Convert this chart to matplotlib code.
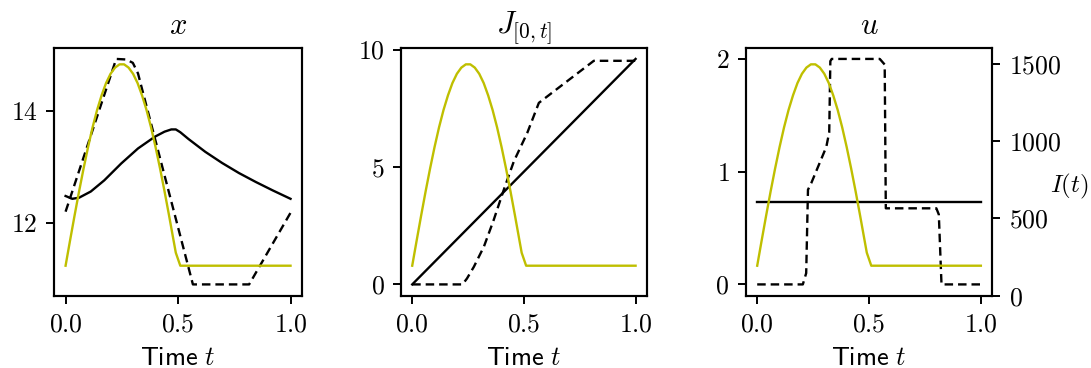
import matplotlib.pyplot as plt

# style: serif CM text, notebook-ish line widths, larger fonts
plt.rcParams.update({
    'font.family': 'cmr10',
    'mathtext.fontset': 'cm',
    'axes.formatter.use_mathtext': True,
    'axes.unicode_minus': False,
    'axes.linewidth': 1.5,
    'lines.linewidth': 1.7,
    'xtick.major.size': 6, 'ytick.major.size': 6,
    'xtick.major.width': 1.4, 'ytick.major.width': 1.4,
    'xtick.major.pad': 6, 'ytick.major.pad': 6,
    'xtick.labelsize': 18.5, 'ytick.labelsize': 18.5,
    'axes.labelsize': 19, 'axes.titlesize': 22,
})

# I(t), shared by all three panels (right axis)
t_I = [0, 0.02, 0.04, 0.06, 0.08, 0.10, 0.12, 0.14, 0.16, 0.18, 0.20, 0.22, 0.24,
       0.26, 0.28, 0.30, 0.32, 0.34, 0.36, 0.38, 0.40, 0.42, 0.44, 0.46, 0.48,
       0.49, 0.51, 1.0]
I_vals = [194, 358, 519, 675, 823, 962, 1089, 1201, 1296, 1376, 1436, 1476, 1497,
          1497, 1476, 1436, 1376, 1296, 1201, 1089, 962, 823, 675, 519, 358,
          278, 194, 194]

# state x
t_x_solid = [0, 0.03, 0.06, 0.112, 0.172, 0.247, 0.322, 0.397, 0.44, 0.47, 0.49,
             0.51, 0.546, 0.621, 0.696, 0.771, 0.846, 0.921, 1.0]
x_solid = [12.48, 12.43, 12.45, 12.56, 12.76, 13.06, 13.33, 13.54, 13.63, 13.67,
           13.67, 13.62, 13.50, 13.27, 13.07, 12.89, 12.73, 12.58, 12.43]
t_x_dash = [0, 0.225, 0.27, 0.299, 0.322, 0.566, 0.816, 1.0]
x_dash = [12.20, 14.93, 14.92, 14.86, 14.67, 10.90, 10.90, 12.18]

# cost J_[0,t]
t_J_solid = [0, 1.0]
J_solid = [0, 9.6]
t_J_dash = [0, 0.225, 0.245, 0.276, 0.321, 0.365, 0.41, 0.455, 0.515, 0.567,
            0.813, 1.0]
J_dash = [0, 0, 0.25, 0.75, 1.61, 2.75, 4.03, 5.24, 6.45, 7.73, 9.52, 9.52]

# control u
t_u_solid = [0, 1.0]
u_solid = [0.734, 0.734]
t_u_dash = [0, 0.204, 0.219, 0.227, 0.242, 0.309, 0.322, 0.327, 0.333, 0.548,
            0.570, 0.575, 0.801, 0.812, 0.824, 1.0]
u_dash = [0, 0, 0.1, 0.84, 0.90, 1.22, 1.35, 1.98, 2.0, 2.0,
          1.95, 0.675, 0.675, 0.62, 0, 0]

dash = (3.6, 2.1)

fig = plt.figure(figsize=(10.91, 3.68), dpi=100)
ax1 = fig.add_axes([0.0498, 0.1965, 0.2268, 0.674])
ax2 = fig.add_axes([0.3676, 0.1965, 0.2252, 0.674])
ax3 = fig.add_axes([0.6838, 0.1965, 0.2255, 0.674])

ax1.plot(t_x_solid, x_solid, color='k')
ax1.plot(t_x_dash, x_dash, color='k', linestyle='--', dashes=dash)
ax1.set_title('$x$', pad=10)
ax1.set_yticks([12, 14])

ax2.plot(t_J_solid, J_solid, color='k')
ax2.plot(t_J_dash, J_dash, color='k', linestyle='--', dashes=dash)
ax2.set_title('$J_{[0,t]}$', pad=10)
ax2.set_yticks([0, 5, 10])

ax3.plot(t_u_solid, u_solid, color='k')
ax3.plot(t_u_dash, u_dash, color='k', linestyle='--', dashes=dash)
ax3.set_title('$u$', pad=10)
ax3.set_yticks([0, 1, 2])

for i, ax in enumerate([ax1, ax2, ax3]):
    ax.set_xticks([0.0, 0.5, 1.0])
    ax.set_xlabel(r'$\mathsf{Time}\ t$', labelpad=7)
    tw = ax.twinx()
    tw.plot(t_I, I_vals, color='y')
    tw.set_ylim(0, 1605)
    if i < 2:
        tw.set_yticks([])
    else:
        tw.set_yticks([0, 500, 1000, 1500])
        tw.set_ylabel('$I(t)$', rotation=0, labelpad=6, fontsize=18)

fig.savefig('out.png', dpi=100)
